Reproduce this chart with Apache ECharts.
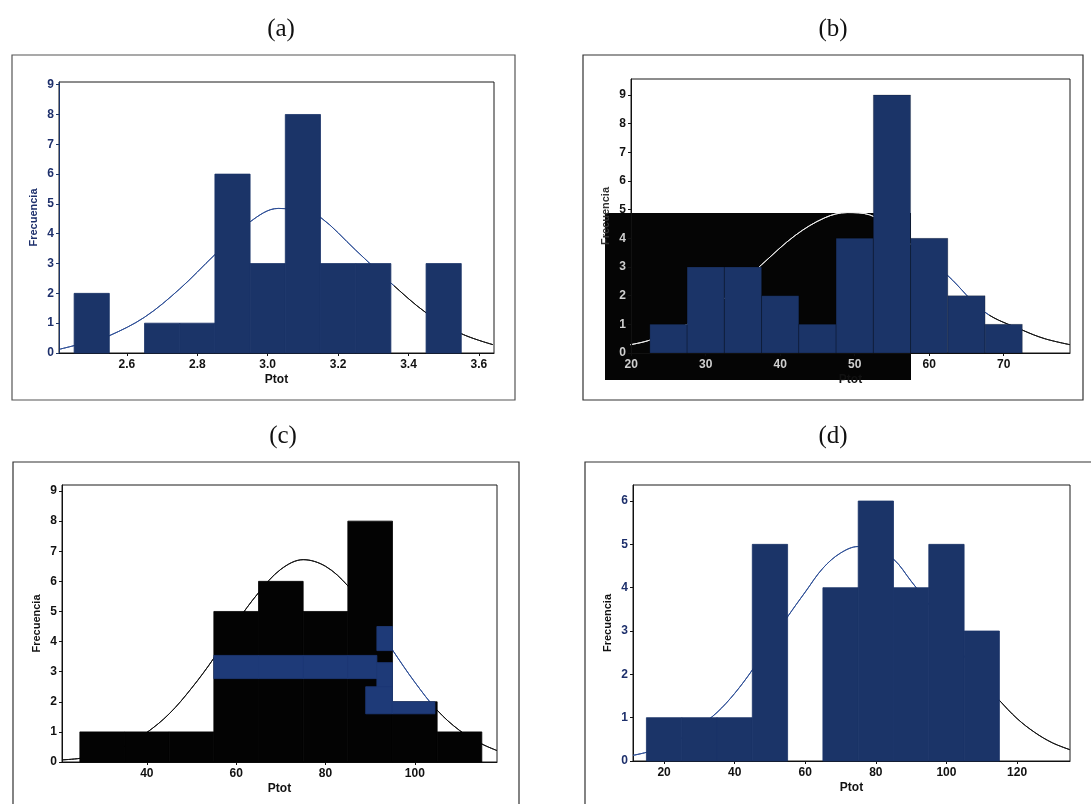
<!DOCTYPE html>
<html>
<head>
<meta charset="utf-8">
<script src="https://cdn.jsdelivr.net/npm/echarts@6/dist/echarts.min.js"></script>
<style>
  html, body { margin: 0; padding: 0; background: #ffffff; }
  #chart { width: 1091px; height: 804px; }
</style>
</head>
<body>
<div id="chart"></div>
<script>
// ---------- (a) ----------
const binCentersA = [2.5, 2.6, 2.7, 2.8, 2.9, 3.0, 3.1, 3.2, 3.3, 3.4, 3.5];
const countsA     = [2, 0, 1, 1, 6, 3, 8, 3, 3, 0, 3];
const fitXA = [2.41, 2.5, 2.55, 2.65, 2.75, 2.85, 2.95, 3.03, 3.1, 3.15, 3.25, 3.35, 3.45, 3.55, 3.64];
const fitYA = [0.13, 0.4, 0.58, 1.2, 2.15, 3.3, 4.4, 4.85, 4.75, 4.55, 3.45, 2.35, 1.35, 0.65, 0.28];
const xTicksA = [2.6, 2.8, 3.0, 3.2, 3.4, 3.6];
const yTicksA = [0, 1, 2, 3, 4, 5, 6, 7, 8, 9];

// ---------- (b) ----------
const binCentersB = [25, 30, 35, 40, 45, 50, 55, 60, 65, 70];
const countsB     = [1, 3, 3, 2, 1, 4, 9, 4, 2, 1];
const fitXB = [19.9, 22.5, 27.5, 32.5, 37.5, 42, 46, 49, 52, 57.5, 62.5, 67.5, 72.5, 75.5, 78.9];
const fitYB = [0.29, 0.45, 1.0, 1.9, 3.08, 4.1, 4.72, 4.9, 4.82, 3.8, 2.7, 1.42, 0.8, 0.5, 0.29];
const xTicksB = [20, 30, 40, 50, 60, 70];
const yTicksB = [0, 1, 2, 3, 4, 5, 6, 7, 8, 9];

// ---------- (c) ----------
const binCentersC = [30, 40, 50, 60, 70, 80, 90, 100, 110];
const countsC     = [1, 1, 1, 5, 6, 5, 8, 2, 1];
const fitXC = [21, 25, 30, 35, 40, 45, 50, 55, 60, 65, 70, 75, 80, 85, 90, 95, 100, 105, 110, 115, 118.4];
const fitYC = [0.07, 0.12, 0.26, 0.52, 0.98, 1.6, 2.45, 3.45, 4.62, 5.62, 6.4, 6.72, 6.5, 5.85, 4.85, 3.72, 2.65, 1.72, 1.05, 0.6, 0.38];
const xTicksC = [40, 60, 80, 100];
const yTicksC = [0, 1, 2, 3, 4, 5, 6, 7, 8, 9];

// ---------- (d) ----------
const binCentersD = [20, 30, 40, 50, 60, 70, 80, 90, 100, 110];
const countsD     = [1, 1, 1, 5, 0, 4, 6, 4, 5, 3];
const fitXD = [11.2, 15, 20, 25, 30, 35, 40, 45, 50, 55, 60, 65, 70, 75, 80, 85, 90, 95, 100, 105, 110, 115, 120, 125, 130, 135];
const fitYD = [0.13, 0.2, 0.33, 0.53, 0.8, 1.12, 1.56, 2.1, 2.72, 3.33, 3.9, 4.45, 4.8, 4.95, 4.88, 4.66, 4.15, 3.62, 3.03, 2.42, 1.86, 1.4, 0.98, 0.66, 0.42, 0.26];
const xTicksD = [20, 40, 60, 80, 100, 120];
const yTicksD = [0, 1, 2, 3, 4, 5, 6];

const NAVY = '#1b3468';
const BLUE_LINE = '#2d4e96';
const NAVY_TEXT = '#1d2f6b';
const INK = '#111111';
const FONT = '"Liberation Sans", Arial, sans-serif';

// colour runs along each fitted curve: [until x, colour]
const curveColours = [
  [[3.36, BLUE_LINE], [Infinity, INK]],
  [[57.5, '#eeeeee'], [68, BLUE_LINE], [Infinity, INK]],
  [[94.5, INK], [104, BLUE_LINE], [Infinity, INK]],
  [[115, BLUE_LINE], [Infinity, INK]]
];
const curveSeries = [0, 2, 4, 7];

// histogram rectangles, one per bin, placed through the axis scales
function histRender(binWidth, fill, stroke) {
  return function (params, api) {
    const c = api.value(0), n = api.value(1);
    if (!n) return null;
    const p0 = api.coord([c - binWidth / 2, n]);
    const p1 = api.coord([c + binWidth / 2, 0]);
    return {
      type: 'rect',
      shape: { x: p0[0], y: p0[1], width: p1[0] - p0[0], height: p1[1] - p0[1] },
      style: { fill: fill, stroke: stroke || fill, lineWidth: stroke ? 0.6 : 0.8 }
    };
  };
}

function pairs(xs, ys) { return xs.map((x, i) => [x, ys[i]]); }

function xAxisCfg(gi, min, max, ticks, fmt, labelColor, lineColor, extra) {
  return Object.assign({
    type: 'value', gridIndex: gi, min: min, max: max,
    name: 'Ptot', nameLocation: 'middle', nameGap: 21,
    nameTextStyle: { fontFamily: FONT, fontWeight: 'bold', fontSize: 12, color: INK },
    axisLine: { show: true, onZero: false, lineStyle: { color: lineColor, width: 1 } },
    axisTick: { show: true, inside: false, length: 3, customValues: ticks, lineStyle: { color: lineColor } },
    axisLabel: { customValues: ticks, formatter: fmt, margin: 6,
                 fontFamily: FONT, fontWeight: 'bold', fontSize: 12, color: labelColor },
    splitLine: { show: false }
  }, extra || {});
}

function yAxisCfg(gi, max, ticks, labelColor, lineColor, nameColor, extra) {
  return Object.assign({
    type: 'value', gridIndex: gi, min: 0, max: max,
    name: 'Frecuencia', nameLocation: 'middle', nameGap: 20, nameRotate: 90,
    nameTextStyle: { fontFamily: FONT, fontWeight: 'bold', fontSize: 11, color: nameColor },
    axisLine: { show: true, onZero: false, lineStyle: { color: lineColor, width: 1 } },
    axisTick: { show: true, inside: false, length: 3, customValues: ticks, lineStyle: { color: lineColor } },
    axisLabel: { customValues: ticks, formatter: v => String(v), margin: 5,
                 fontFamily: FONT, fontWeight: 'bold', fontSize: 12, color: labelColor },
    splitLine: { show: false }
  }, extra || {});
}

// blue streaks across the black bars of panel (c): [x0, x1, y0, y1]
const streaksC = [[55, 91.5, 2.77, 3.54], [91.5, 95, 3.7, 4.5], [91.5, 95, 2.5, 3.3], [89, 104.5, 1.6, 2.5]];

function streakRender(params, api) {
  const s = streaksC[params.dataIndex];
  const children = [];
  binCentersC.forEach((c, i) => {
    const bx0 = c - 5, bx1 = c + 5, top = countsC[i];
    const x0 = Math.max(s[0], bx0), x1 = Math.min(s[1], bx1);
    const y0 = s[2], y1 = Math.min(s[3], top);
    if (x1 <= x0 || y1 <= y0) return;
    const p0 = api.coord([x0, y1]);
    const p1 = api.coord([x1, y0]);
    children.push({ type: 'rect', shape: { x: p0[0], y: p0[1], width: p1[0] - p0[0], height: p1[1] - p0[1] },
                    style: { fill: '#1e3a78', stroke: '#1e3a78', lineWidth: 0.8 } });
  });
  return { type: 'group', children: children };
}

const gridBase = { show: true, borderColor: '#1a1a1a', borderWidth: 1, backgroundColor: 'transparent', containLabel: false };

function curve(i, xs, ys) {
  return { type: 'line', xAxisIndex: i, yAxisIndex: i, data: pairs(xs, ys), smooth: 0.35,
           symbol: 'none', lineStyle: { width: 1, color: INK }, z: 2, silent: true };
}
function bars(i, centers, counts, width, fill, stroke) {
  return { type: 'custom', xAxisIndex: i, yAxisIndex: i, renderItem: histRender(width, fill, stroke),
           data: pairs(centers, counts), encode: { x: 0, y: 1 }, z: 4, silent: true };
}

const option = {
  backgroundColor: '#ffffff',
  animation: false,
  grid: [
    Object.assign({ left: 59,  top: 82,  width: 435, height: 271 }, gridBase),
    Object.assign({ left: 631, top: 79,  width: 439, height: 274 }, gridBase),
    Object.assign({ left: 62,  top: 485, width: 435, height: 277 }, gridBase),
    Object.assign({ left: 633, top: 485, width: 437, height: 276 }, gridBase)
  ],
  xAxis: [
    xAxisCfg(0, 2.407, 3.643, xTicksA, v => Number(v).toFixed(1), INK, INK),
    xAxisCfg(1, 19.97, 78.9, xTicksB, v => String(v),
             v => (Number(v) <= 50 ? '#cfcfcf' : INK), INK, { z: 3 }),
    xAxisCfg(2, 21, 118.4, xTicksC, v => String(v), INK, INK),
    xAxisCfg(3, 11.2, 135, xTicksD, v => String(v), INK, INK)
  ],
  yAxis: [
    yAxisCfg(0, 9.09, yTicksA, NAVY_TEXT, NAVY, NAVY_TEXT),
    yAxisCfg(1, 9.56, yTicksB, v => (Number(v) <= 4 ? '#cfcfcf' : INK), INK, '#333333', { z: 3 }),
    yAxisCfg(2, 9.2, yTicksC, INK, INK, INK),
    yAxisCfg(3, 6.37, yTicksD, NAVY_TEXT, INK, INK)
  ],
  series: [
    curve(0, fitXA, fitYA),
    bars(0, binCentersA, countsA, 0.1, NAVY),
    curve(1, fitXB, fitYB),
    bars(1, binCentersB, countsB, 5, NAVY, 'rgba(0,0,0,0.35)'),
    curve(2, fitXC, fitYC),
    bars(2, binCentersC, countsC, 10, '#030303'),
    { type: 'custom', xAxisIndex: 2, yAxisIndex: 2, renderItem: streakRender,
      data: streaksC.map((s, i) => [s[0], s[2], i]), encode: { x: 0, y: 1 }, z: 5, silent: true },
    curve(3, fitXD, fitYD),
    bars(3, binCentersD, countsD, 10, NAVY)
  ],
  graphic: [
    // panel frames
    { type: 'rect', z: 0, shape: { x: 12, y: 55, width: 503, height: 345 },
      style: { fill: null, stroke: '#555555', lineWidth: 1.2 } },
    { type: 'rect', z: 0, shape: { x: 583, y: 55, width: 500, height: 345 },
      style: { fill: null, stroke: '#333333', lineWidth: 1.2 } },
    { type: 'rect', z: 0, shape: { x: 13, y: 462, width: 506, height: 360 },
      style: { fill: null, stroke: '#333333', lineWidth: 1.2 } },
    { type: 'rect', z: 0, shape: { x: 585, y: 462, width: 520, height: 360 },
      style: { fill: null, stroke: '#333333', lineWidth: 1.2 } },
    // dark block behind the lower-left of panel (b)
    { type: 'rect', z: 1, shape: { x: 605, y: 213, width: 306, height: 167 },
      style: { fill: '#050505' } },
    // panel letters
    { type: 'text', z: 5, x: 281, y: 29, style: { text: '(a)', font: '25px "Liberation Serif", "Times New Roman", serif',
      fill: '#111', align: 'center', verticalAlign: 'middle' } },
    { type: 'text', z: 5, x: 833, y: 29, style: { text: '(b)', font: '25px "Liberation Serif", "Times New Roman", serif',
      fill: '#111', align: 'center', verticalAlign: 'middle' } },
    { type: 'text', z: 5, x: 283, y: 436, style: { text: '(c)', font: '25px "Liberation Serif", "Times New Roman", serif',
      fill: '#111', align: 'center', verticalAlign: 'middle' } },
    { type: 'text', z: 5, x: 833, y: 436, style: { text: '(d)', font: '25px "Liberation Serif", "Times New Roman", serif',
      fill: '#111', align: 'center', verticalAlign: 'middle' } }
  ]
};

const chart = echarts.init(document.getElementById('chart'), null, { renderer: 'canvas' });
chart.setOption(option);

// colour each fitted curve in runs along x, using the pixel positions from its own axis
const recoloured = curveSeries.map((si, k) => {
  const runs = curveColours[k];
  const axis = k;
  const xMin = option.xAxis[axis].min, xMax = option.xAxis[axis].max;
  const px0 = chart.convertToPixel({ xAxisIndex: axis }, xMin);
  const px1 = chart.convertToPixel({ xAxisIndex: axis }, xMax);
  const stops = [];
  let from = 0;
  runs.forEach(([until, colour]) => {
    const end = until === Infinity ? 1
      : Math.min(1, Math.max(0, (chart.convertToPixel({ xAxisIndex: axis }, until) - px0) / (px1 - px0)));
    stops.push({ offset: from, color: colour }, { offset: end, color: colour });
    from = end;
  });
  return { lineStyle: { width: 1, color: new echarts.graphic.LinearGradient(px0, 0, px1, 0, stops, true) } };
});
const seriesPatch = option.series.map(() => ({}));
curveSeries.forEach((si, k) => { seriesPatch[si] = recoloured[k]; });
chart.setOption({ series: seriesPatch });
</script>
</body>
</html>
